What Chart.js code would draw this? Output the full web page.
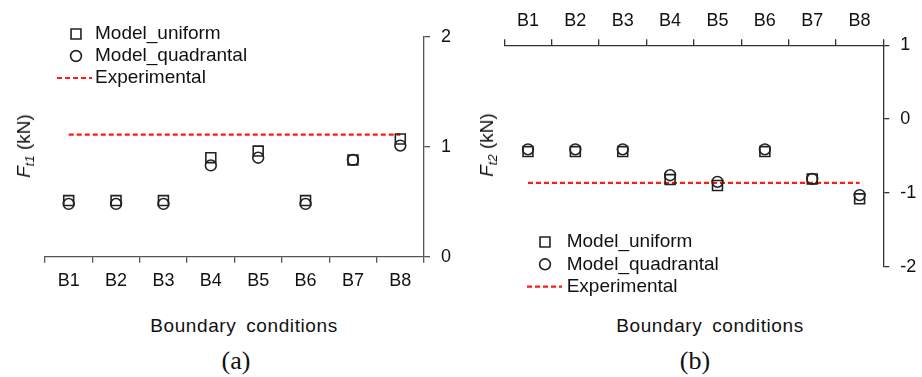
<!DOCTYPE html>
<html>
<head>
<meta charset="utf-8">
<script src="https://cdn.jsdelivr.net/npm/chart.js@4"></script>
<style>
  body { margin: 0; background: #fff; overflow: hidden; }
  #wrap { position: relative; width: 922px; height: 377px; font-family: 'Liberation Sans', Arial, sans-serif; color: #111; }
  canvas { position: absolute; top: 0; }
  .lbl { position: absolute; transform: translate(-50%, -50%); white-space: nowrap; line-height: 1; }
  .ytitle { font-size: 19px; transform: translate(-50%, -50%) rotate(-90deg); }
  .ytitle sub { font-size: 13px; vertical-align: -4px; }
  .xtitle { font-size: 19px; letter-spacing: 0.6px; word-spacing: 4px; }
  .cap { font-family: 'Liberation Serif', 'Times New Roman', serif; font-size: 26px; }
</style>
</head>
<body>
<div id="wrap">
  <canvas id="chartA" width="461" height="300" style="left:0"></canvas>
  <canvas id="chartB" width="461" height="300" style="left:461px"></canvas>

  <div class="lbl ytitle" style="left:25px; top:146px"><i>F</i><sub><i>t1</i></sub> (kN)</div>
  <div class="lbl ytitle" style="left:488px; top:145px"><i>F</i><sub><i>t2</i></sub> (kN)</div>
  <div class="lbl xtitle" style="left:244px; top:325px">Boundary conditions</div>
  <div class="lbl xtitle" style="left:710px; top:325px">Boundary conditions</div>
  <div class="lbl cap" style="left:236px; top:361px">(a)</div>
  <div class="lbl cap" style="left:695px; top:361px">(b)</div>
</div>

<script>
// data
const categories = ['B1', 'B2', 'B3', 'B4', 'B5', 'B6', 'B7', 'B8'];

const uniformFt1    = [0.51, 0.51, 0.51, 0.90, 0.96, 0.51, 0.88, 1.07];
const quadrantalFt1 = [0.48, 0.48, 0.48, 0.83, 0.90, 0.48, 0.88, 1.01];
const experimentalFt1 = [1.11, 1.11, 1.11, 1.11, 1.11, 1.11, 1.11, 1.11];

const uniformFt2    = [-0.44, -0.44, -0.44, -0.82, -0.90, -0.44, -0.81, -1.08];
const quadrantalFt2 = [-0.41, -0.41, -0.41, -0.76, -0.85, -0.41, -0.81, -1.03];
const experimentalFt2 = [-0.865, -0.865, -0.865, -0.865, -0.865, -0.865, -0.865, -0.865];

const ticksFt1 = { min: 0, max: 2, step: 1 };
const ticksFt2 = { min: -2, max: 1, step: 1 };

const FONT = "'Liberation Sans', Arial, sans-serif";

// legend drawn at a fixed spot, built from the datasets themselves
const boxLegend = {
    id: 'boxLegend',
    afterDraw(chart, args, opts) {
        const ctx = chart.ctx;
        ctx.save();
        ctx.font = '19px ' + FONT;
        ctx.textBaseline = 'middle';
        chart.data.datasets.forEach((ds, i) => {
            const y = opts.y + i * opts.rowGap;
            ctx.strokeStyle = ds.borderColor;
            ctx.fillStyle = 'rgba(0,0,0,0)';
            if (ds.borderDash) {
                ctx.lineWidth = ds.borderWidth;
                ctx.setLineDash(ds.borderDash);
                ctx.beginPath();
                ctx.moveTo(opts.lineX0, y);
                ctx.lineTo(opts.lineX1, y);
                ctx.stroke();
                ctx.setLineDash([]);
            } else {
                ctx.lineWidth = ds.pointBorderWidth;
                Chart.helpers.drawPoint(ctx, {
                    pointStyle: ds.pointStyle,
                    radius: ds.pointRadius,
                    rotation: 0,
                    borderWidth: ds.pointBorderWidth
                }, opts.markX, y);
            }
            ctx.fillStyle = '#111';
            ctx.fillText(ds.label, opts.textX, y);
        });
        ctx.restore();
    }
};

function markerSet(label, data, style, radius) {
    return {
        label: label,
        data: data,
        showLine: false,
        pointStyle: style,
        pointRadius: radius,
        pointBorderWidth: 1.6,
        borderColor: '#222',
        backgroundColor: 'rgba(0,0,0,0)',
        pointBackgroundColor: 'rgba(0,0,0,0)'
    };
}

function makeChart(id, cfg) {
    const axisColor = cfg.axisColor;
    return new Chart(document.getElementById(id), {
        type: 'line',
        data: {
            labels: categories,
            datasets: [
                markerSet('Model_uniform', cfg.uniform, 'rect', 7),
                markerSet('Model_quadrantal', cfg.quadrantal, 'circle', 5.4),
                {
                    label: 'Experimental',
                    data: cfg.experimental,
                    borderColor: '#ff1a1a',
                    borderWidth: 2.2,
                    borderDash: [5, 3],
                    pointRadius: 0,
                    fill: false
                }
            ]
        },
        options: {
            responsive: false,
            animation: false,
            layout: { padding: cfg.padding },
            plugins: {
                legend: { display: false },
                tooltip: { enabled: false },
                boxLegend: cfg.legend
            },
            scales: {
                x: {
                    type: 'category',
                    position: cfg.xPosition,
                    offset: true,
                    grid: {
                        offset: true,
                        drawOnChartArea: false,
                        tickLength: 6,
                        color: axisColor,
                        lineWidth: 1.3
                    },
                    border: { color: axisColor, width: 1.3 },
                    ticks: {
                        color: '#111',
                        padding: cfg.xPad,
                        maxRotation: 0,
                        font: { family: FONT, size: 18 }
                    },
                    afterFit: s => { s.height = cfg.xHeight; }
                },
                y: {
                    position: 'right',
                    min: cfg.yTicks.min,
                    max: cfg.yTicks.max,
                    grid: {
                        drawOnChartArea: false,
                        tickLength: 6,
                        color: axisColor,
                        lineWidth: 1.3
                    },
                    border: { color: axisColor, width: 1.3 },
                    ticks: {
                        stepSize: cfg.yTicks.step,
                        color: '#111',
                        padding: 11,
                        font: { family: FONT, size: 18 }
                    },
                    afterFit: s => { s.width = cfg.yWidth; }
                }
            }
        },
        plugins: [boxLegend]
    });
}

makeChart('chartA', {
    uniform: uniformFt1,
    quadrantal: quadrantalFt1,
    experimental: experimentalFt1,
    yTicks: ticksFt1,
    axisColor: '#555',
    xPosition: 'bottom',
    xPad: 8,
    xHeight: 43.3,
    yWidth: 37,
    padding: { left: 45, top: 36.7, right: 0, bottom: 0 },
    legend: { markX: 76, textX: 95, y: 34, rowGap: 22, lineX0: 57, lineX1: 92 }
});

makeChart('chartB', {
    uniform: uniformFt2,
    quadrantal: quadrantalFt2,
    experimental: experimentalFt2,
    yTicks: ticksFt2,
    axisColor: '#333',
    xPosition: 'top',
    xPad: 7,
    xHeight: 45.3,
    yWidth: 38.7,
    padding: { left: 43.3, top: 0, right: 0, bottom: 33.3 },
    legend: { markX: 84, textX: 105.7, y: 242, rowGap: 22.3, lineX0: 66, lineX1: 101 }
});
</script>
</body>
</html>
